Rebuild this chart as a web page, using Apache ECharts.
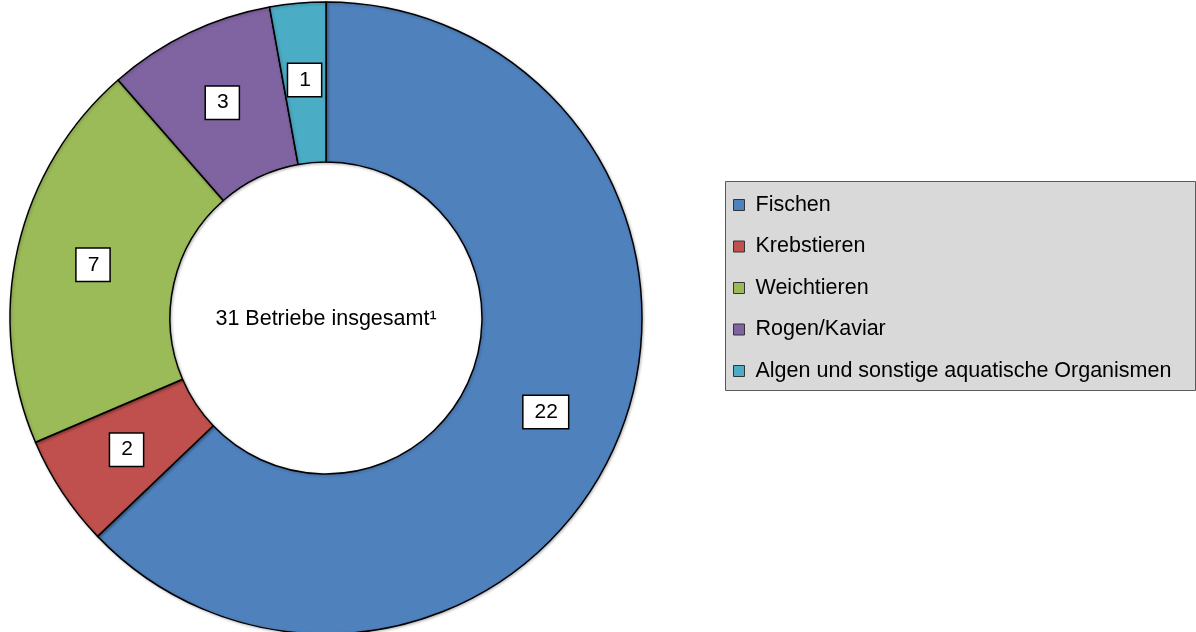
<!DOCTYPE html>
<html>
<head>
<meta charset="utf-8">
<script src="https://cdn.jsdelivr.net/npm/echarts@6/dist/echarts.min.js"></script>
<style>
  html, body { margin: 0; padding: 0; background: #fff; }
  #chart { width: 1196px; height: 632px; }
</style>
</head>
<body>
<div id="chart"></div>
<script>
// Kategorien und Werte (Anzahl Betriebe)
const categories = ['Fischen', 'Krebstieren', 'Weichtieren', 'Rogen/Kaviar', 'Algen und sonstige aquatische Organismen'];
const values = [22, 2, 7, 3, 1];
const colors = ['#4f81bd', '#c0504d', '#9bbb59', '#8064a2', '#4bacc6'];
const centerText = '31 Betriebe insgesamt¹';

const chart = echarts.init(document.getElementById('chart'));

const option = {
    animation: false,
    color: colors,
    textStyle: { fontFamily: 'Liberation Sans, Arial, sans-serif' },
    graphic: [
        { // Legendenrahmen
            type: 'rect',
            z: 0,
            shape: { x: 725.5, y: 181.5, width: 470, height: 209 },
            style: { fill: '#d9d9d9', stroke: '#595959', lineWidth: 1 }
        },
        {
            type: 'text',
            z: 10,
            x: 326,
            y: 319,
            style: {
                text: centerText,
                align: 'center',
                verticalAlign: 'middle',
                fill: '#000',
                font: '21.5px "Liberation Sans", Arial, sans-serif'
            }
        }
    ],
    legend: {
        orient: 'vertical',
        left: 733,
        top: 194,
        padding: 0,
        itemWidth: 11,
        itemHeight: 11,
        itemGap: 19.5,
        icon: 'rect',
        itemStyle: { borderColor: '#333', borderWidth: 1 },
        textStyle: { fontSize: 21.5, color: '#000', lineHeight: 22, padding: [0, 0, 0, 6] },
        data: categories
    },
    series: [{
        type: 'pie',
        center: [326, 318],
        radius: [156, 316],
        startAngle: 90,
        clockwise: true,
        avoidLabelOverlap: false,
        itemStyle: {
            borderColor: '#000',
            borderWidth: 1.5,
            shadowBlur: 3,
            shadowColor: 'rgba(0,0,0,0.25)',
            shadowOffsetX: 1,
            shadowOffsetY: 1
        },
        label: {
            show: true,
            position: 'inside',
            formatter: '{c}',
            fontSize: 21,
            color: '#000',
            backgroundColor: '#fff',
            borderColor: '#000',
            borderWidth: 1.5,
            padding: [5, 10, 5, 11],
            lineHeight: 22
        },
        labelLine: { show: false },
        emphasis: { disabled: true },
        data: categories.map((name, i) => ({ name: name, value: values[i] }))
    }]
};

chart.setOption(option);
</script>
</body>
</html>
